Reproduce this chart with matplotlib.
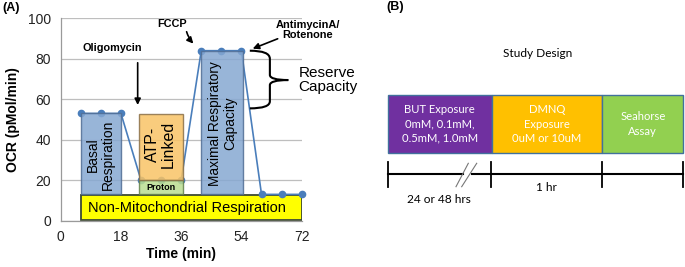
import matplotlib
matplotlib.use("Agg")
import matplotlib.pyplot as plt
from matplotlib.patches import Rectangle, PathPatch
from matplotlib.path import Path

plt.rcParams['font.family'] = ['Liberation Sans', 'DejaVu Sans']

# ---------------- data ----------------
time_min = [6, 12, 18, 24, 30, 36, 42, 48, 54, 60, 66, 72]
ocr = [53, 53, 53, 20, 20, 20, 84, 84, 84, 13, 13, 13]
x_ticks = [0, 18, 36, 54, 72]
y_ticks = [0, 20, 40, 60, 80, 100]

# shaded regions: (label, x_start, x_end, bottom, top)
region_labels = ["Basal\nRespiration", "Proton", "ATP-\nLinked",
                 "Maximal Respiratory\nCapacity", "Non-Mitochondrial Respiration"]
region_x0 = [6, 23.3, 23.3, 42, 6]
region_x1 = [18, 36.6, 36.6, 54.5, 72]
region_bottom = [13, 13, 20, 13, 0.5]
region_top = [53, 20, 52.5, 84, 12.5]

design_steps = ["BUT Exposure\n0mM, 0.1mM,\n0.5mM, 1.0mM",
                "DMNQ\nExposure\n0uM or 10uM",
                "Seahorse\nAssay"]
design_durations = ["24 or 48 hrs", "1 hr"]

# ---------------- figure ----------------
fig = plt.figure(figsize=(6.85, 2.67), dpi=100)
ax = fig.add_axes([0.0886, 0.1734, 0.3518, 0.758])
ax.set_zorder(2)

ax.set_xlim(0, 72)
ax.set_ylim(0, 100)
ax.set_xticks(x_ticks)
ax.set_yticks(y_ticks)
ax.tick_params(length=0, labelsize=10, colors='#222222')
ax.tick_params(axis='y', pad=7)
ax.tick_params(axis='x', pad=7)
ax.grid(axis='y', color='#BEBEBE', lw=0.9)
ax.set_axisbelow(True)
for s in ['top', 'right']:
    ax.spines[s].set_visible(False)
for s in ['left', 'bottom']:
    ax.spines[s].set_color('#9A9A9A')
    ax.spines[s].set_linewidth(0.9)

fills = ['#86A8D2', '#BADD91', '#F9C466', '#86A8D2', '#FFFF00']
edges = ['#506D94', '#62804A', '#8A7048', '#506D94', '#3D4A33']
alphas = [0.85, 0.85, 0.85, 0.85, 1.0]
zords = [4, 4, 4, 4, 2]
for i, lab in enumerate(region_labels):
    x0, x1 = region_x0[i], region_x1[i]
    b, t = region_bottom[i], region_top[i]
    ax.bar(x0, t - b, width=x1 - x0, bottom=b, align='edge',
           color=fills[i], edgecolor=edges[i], alpha=alphas[i],
           lw=1.0 if i < 4 else 1.3, zorder=zords[i])

ax.plot(time_min, ocr, color='#4A7EBB', lw=1.2, marker='o', ms=4.5,
        zorder=3, clip_on=False)

# region texts
ax.text(11.8, 32.5, region_labels[0], rotation=90, ha='center', va='center',
        fontsize=10, zorder=5, linespacing=1.1)
ax.text(29.9, 16.2, region_labels[1], ha='center', va='center', fontsize=6.5,
        fontweight='bold', zorder=5)
ax.text(29.9, 37.5, region_labels[2], rotation=90, ha='center', va='center',
        fontsize=11.5, zorder=5, linespacing=1.05)
ax.text(48.3, 48, region_labels[3], rotation=90, ha='center', va='center',
        fontsize=9.8, zorder=5, linespacing=1.1)
ax.text(37.8, 6.5, region_labels[4], ha='center', va='center', fontsize=10.5,
        zorder=5)

# annotations
ax.text(15.5, 85.3, "Oligomycin", ha='center', va='center', fontsize=7.8,
        fontweight='bold')
ax.annotate("", xy=(23.0, 55.8), xytext=(23.0, 79.4),
            arrowprops=dict(arrowstyle='-|>', color='black', lw=1.2,
                            mutation_scale=9))
ax.text(33.3, 97.3, "FCCP", ha='center', va='center', fontsize=7.8,
        fontweight='bold', clip_on=False)
ax.annotate("", xy=(40.2, 86.5), xytext=(37.4, 94.7),
            arrowprops=dict(arrowstyle='-|>', color='black', lw=1.2,
                            mutation_scale=9,
                            connectionstyle='arc3,rad=0.15'))
ax.text(73.9, 94.3, "AntimycinA/\nRotenone", ha='center', va='center',
        fontsize=7.9, fontweight='bold', clip_on=False, linespacing=1.05)
ax.annotate("", xy=(56.6, 84.5), xytext=(65.6, 90.4),
            arrowprops=dict(arrowstyle='-|>', color='black', lw=1.2,
                            mutation_scale=9), annotation_clip=False)

# brace
verts = [(56.5, 84), (62.5, 84), (62.5, 80), (62.5, 72),
         (62.5, 69.5), (68, 69.5), (62.5, 69.5), (62.5, 67),
         (62.5, 59), (62.5, 55.5), (56.5, 55.5)]
codes = [Path.MOVETO, Path.CURVE3, Path.CURVE3, Path.LINETO,
         Path.CURVE3, Path.CURVE3, Path.CURVE3, Path.CURVE3,
         Path.LINETO, Path.CURVE3, Path.CURVE3]
ax.add_patch(PathPatch(Path(verts, codes), fc='none', ec='black', lw=1.5,
                       zorder=5, clip_on=False))
ax.text(71, 69.5, "Reserve\nCapacity", ha='left', va='center', fontsize=11,
        clip_on=False, linespacing=1.05)

ax.set_ylabel("OCR (pMol/min)", fontsize=10, fontweight='bold', labelpad=6)
ax.set_xlabel("Time (min)", fontsize=10, fontweight='bold', labelpad=2)

fig.text(2 / 685, 1 - 8 / 267, "(A)", fontsize=9, fontweight='bold',
         ha='left', va='center')
fig.text(386 / 685, 1 - 7 / 267, "(B)", fontsize=9, fontweight='bold',
         ha='left', va='center')

# ---------------- panel B ----------------
bx = fig.add_axes([0, 0, 1, 1])
bx.set_zorder(1)
bx.set_xlim(0, 685)
bx.set_ylim(267, 0)
bx.axis('off')
bx.patch.set_visible(False)

fB = ['Lato', 'DejaVu Sans']
bx.text(537.7, 53.3, "Study Design", ha='center', va='center', fontsize=8.6,
        family=fB)

box_x = [387.7, 491.7, 602.3, 683.3]
box_colors = ['#7030A0', '#FFC000', '#92D050']
for i, lab in enumerate(design_steps):
    bx.add_patch(Rectangle((box_x[i], 95), box_x[i + 1] - box_x[i], 57.7,
                           fc=box_colors[i], ec='#41719C', lw=1.0))
    bx.text((box_x[i] + box_x[i + 1]) / 2, 124, lab, ha='center', va='center',
            color='white', fontsize=8.1, family=fB, linespacing=1.38)

# timeline
ty = 174.3
bx.plot([387.7, 463.3], [ty, ty], color='black', lw=1.5)
bx.plot([471.7, 682.7], [ty, ty], color='black', lw=1.5)
for tx in [387.7, 490.7, 601.7, 682.7]:
    bx.plot([tx, tx], [161.7, 187.3], color='black', lw=1.3)
bx.plot([456, 468.3], [186.7, 163.3], color='#777777', lw=0.8)
bx.plot([461.7, 476.7], [186.7, 163.3], color='#777777', lw=0.8)
bx.text(439.3, 199.3, design_durations[0], ha='center', va='center',
        fontsize=8.6, family=fB)
bx.text(546, 187.7, design_durations[1], ha='center', va='center',
        fontsize=8.6, family=fB)

fig.savefig("out.png", dpi=100)
